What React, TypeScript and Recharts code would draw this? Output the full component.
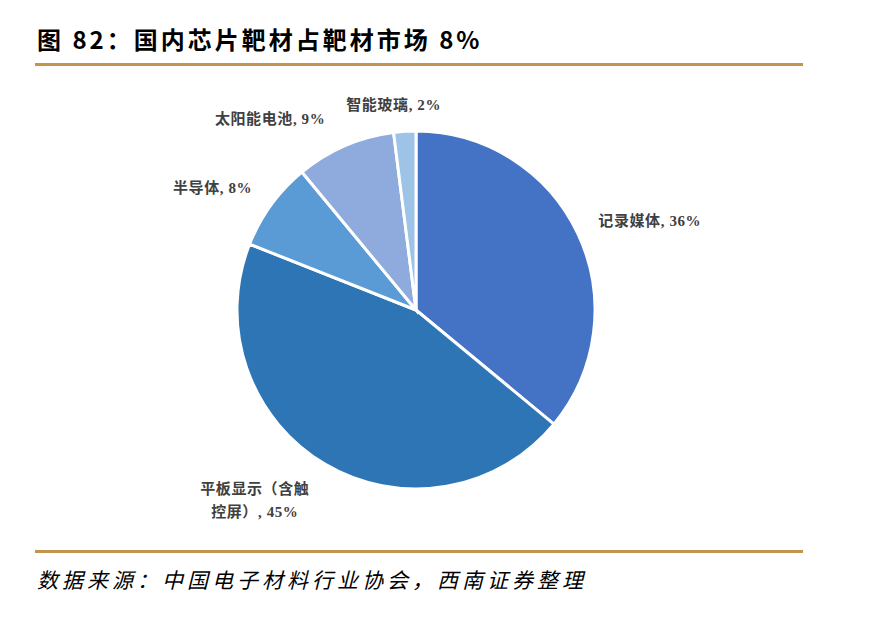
import type { FC } from "react";
import { Cell, Pie, PieChart } from "recharts";

// slice names and shares (%), clockwise from 12 o'clock
const names = ["记录媒体", "平板显示（含触控屏）", "半导体", "太阳能电池", "智能玻璃"];
const shares = [36, 45, 8, 9, 2];
const colors = ["#4472C4", "#2E75B6", "#5B9BD5", "#8FAADC", "#9DC3E6"];

// label text, one entry per line
const labelLines = [
  ["记录媒体, 36%"],
  ["平板显示（含触", "控屏）, 45%"],
  ["半导体, 8%"],
  ["太阳能电池, 9%"],
  ["智能玻璃, 2%"],
];

// small nudges from the default polar label spot, to mimic Excel's "best fit"
const labelShift: [number, number][] = [
  [13, 15],
  [-37, -20],
  [-6, 21],
  [-49, 33],
  [-7, 39],
];

const pieData = names.map((name, i) => ({ name, value: shares[i] }));

const RADIAN = Math.PI / 180;

const renderLabel = (props: any) => {
  const { cx, cy, midAngle, outerRadius, index } = props;
  const r = outerRadius + 65;
  const x = cx + r * Math.cos(-midAngle * RADIAN) + labelShift[index][0];
  const y = cy + r * Math.sin(-midAngle * RADIAN) + labelShift[index][1];
  const lines = labelLines[index];
  const y0 = y - ((lines.length - 1) * 23) / 2;
  return (
    <text
      x={x}
      y={y0}
      textAnchor="middle"
      dominantBaseline="central"
      fill="#404040"
      fontSize={15}
      fontWeight="bold"
      letterSpacing={0.6}
      fontFamily="'Liberation Serif', 'Noto Sans CJK SC', serif"
    >
      {lines.map((ln, k) => (
        <tspan key={k} x={x} dy={k === 0 ? 0 : 23}>
          {ln}
        </tspan>
      ))}
    </text>
  );
};

const App: FC = () => {
  return (
    <div
      style={{
        position: "absolute",
        left: 0,
        top: 0,
        width: 880,
        height: 619,
        background: "#fff",
      }}
    >
      <div
        style={{
          position: "absolute",
          left: 37,
          top: 24,
          fontSize: 24,
          letterSpacing: 3,
          fontWeight: "bold",
          fontFamily: "'Noto Sans CJK SC', sans-serif",
          color: "#000",
          whiteSpace: "nowrap",
          lineHeight: "30px",
        }}
      >
        图 82：国内芯片靶材占靶材市场 8%
      </div>
      <div
        style={{
          position: "absolute",
          left: 35,
          top: 63,
          width: 768,
          height: 3,
          background: "#C3944E",
        }}
      />
      <PieChart width={880} height={619} style={{ position: "absolute", left: 0, top: 0 }}>
        <Pie
          data={pieData}
          dataKey="value"
          nameKey="name"
          cx={411}
          cy={305}
          outerRadius={179}
          startAngle={90}
          endAngle={-270}
          stroke="#fff"
          strokeWidth={3}
          label={renderLabel}
          labelLine={false}
          isAnimationActive={false}
        >
          {pieData.map((d, i) => (
            <Cell key={d.name} fill={colors[i]} />
          ))}
        </Pie>
      </PieChart>
      <div
        style={{
          position: "absolute",
          left: 35,
          top: 550,
          width: 768,
          height: 3,
          background: "#C3944E",
        }}
      />
      <div
        style={{
          position: "absolute",
          left: 37,
          top: 565,
          fontSize: 21,
          letterSpacing: 4,
          fontStyle: "italic",
          fontFamily: "'Noto Sans CJK SC', serif",
          color: "#000",
          whiteSpace: "nowrap",
          lineHeight: "28px",
        }}
      >
        数据来源：中国电子材料行业协会，西南证券整理
      </div>
    </div>
  );
};

export default App;
